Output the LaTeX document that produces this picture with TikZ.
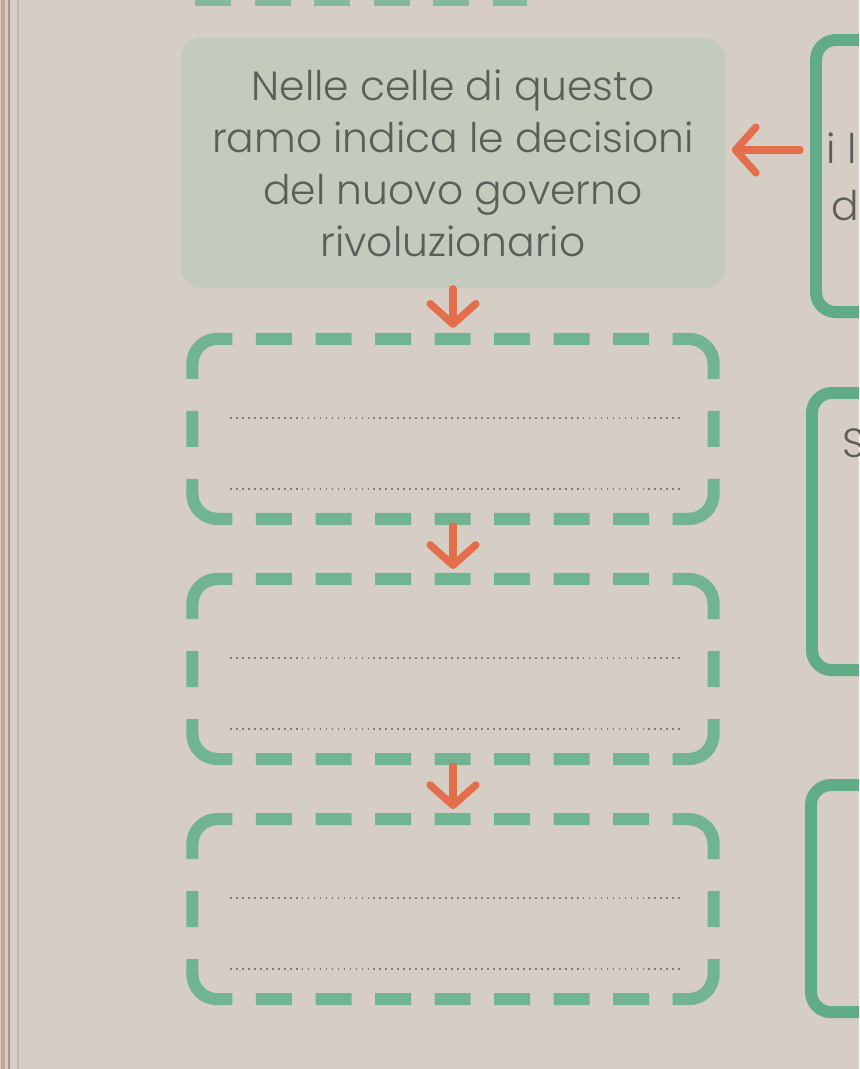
\documentclass[tikz,border=0pt]{standalone}
\usepackage{fontspec}
\setmainfont{Poppins}[UprightFont={* Light}]
\usetikzlibrary{positioning,arrows.meta}
\definecolor{paper}{RGB}{214,205,197}
\definecolor{boxfill}{RGB}{194,203,188}
\definecolor{cellgreen}{RGB}{112,180,146}
\definecolor{sidegreen}{RGB}{96,172,136}
\definecolor{arroworange}{RGB}{226,110,76}
\definecolor{inkgray}{RGB}{92,94,90}
\definecolor{edgegray}{RGB}{160,150,142}
\definecolor{edgered}{RGB}{206,160,150}
\begin{document}
\begin{tikzpicture}[x=0.01cm,y=-0.01cm,
    infobox/.style={rectangle,fill=boxfill,rounded corners=0.2cm,minimum width=5.44cm,minimum height=2.5cm,align=center,text=inkgray,font=\fontsize{11.6}{14.8}\selectfont},
    cell/.style={rectangle,minimum width=5.21cm,minimum height=1.8cm,inner sep=0pt,outer sep=0pt},
    cellline/.style={draw=cellgreen,line width=3.4pt,rounded corners=0.25cm},
    topdash/.style={dash pattern=on 15.45pt off 6.69pt on 10.24pt off 6.69pt on 10.24pt off 6.69pt on 10.24pt off 6.69pt on 10.24pt off 6.69pt on 10.24pt off 6.69pt on 10.24pt off 6.69pt on 10.24pt off 6.69pt},
    sidedash/.style={dash pattern=on 15.45pt off 9.1pt on 10.24pt off 9.1pt},
    sidebox/.style={rectangle,draw=sidegreen,line width=3.4pt,rounded corners=0.2cm,minimum width=2cm,anchor=north west,inner sep=0pt},
    sidetext/.style={text=inkgray,font=\fontsize{11.6}{14.8}\selectfont,anchor=base west,inner sep=0pt},
    writeline/.style={draw=inkgray!80,line width=0.7pt,dash pattern=on 0.5pt off 1.2pt},
    down/.style={draw=arroworange,line width=2.1pt,line cap=round,-{Straight Barb[length=5.8pt,width=13pt,round]}}]
  \useasboundingbox (0,0) rectangle (859,1069);
  \clip (0,0) rectangle (859,1069);
  \fill[paper] (0,0) rectangle (859,1069);
  % page edges on the left
  \draw[edgered,line width=1.2pt] (3,0) -- (3,1069);
  \draw[edgegray,line width=0.6pt] (9,0) -- (9,1069);
  \draw[edgegray!70,line width=0.5pt] (18,0) -- (18,1069);
  % end of the row above
  \draw[cellline,draw=cellgreen!80!paper,dash pattern=on 10.24pt off 6.69pt] (195,0) -- (527,0);

  \node[infobox] (info) at (453,163) {Nelle celle di questo\\ramo indica le decisioni\\del nuovo governo\\rivoluzionario};
  \node[cell,below=0.5cm of info] (cella) {};
  \node[cell,below=0.6cm of cella] (cellb) {};
  \node[cell,below=0.6cm of cellb] (cellc) {};

  \foreach \c in {cella,cellb,cellc}{
    \draw[cellline,topdash] ([yshift=-0.25cm]\c.north west) -- (\c.north west) -- (\c.north east) -- ([yshift=-0.25cm]\c.north east);
    \draw[cellline,topdash] ([yshift=0.25cm]\c.south west) -- (\c.south west) -- (\c.south east) -- ([yshift=0.25cm]\c.south east);
    \draw[cellline,sidedash] ([xshift=0.25cm]\c.north west) -- (\c.north west) -- (\c.south west) -- ([xshift=0.25cm]\c.south west);
    \draw[cellline,sidedash] ([xshift=-0.25cm]\c.north east) -- (\c.north east) -- (\c.south east) -- ([xshift=-0.25cm]\c.south east);
    \draw[writeline] ([shift={(-223,-11)}]\c.center) -- ([shift={(227,-11)}]\c.center);
    \draw[writeline] ([shift={(-223,60)}]\c.center) -- ([shift={(227,60)}]\c.center);
  }

  % boxes of the next branch, cut by the page edge
  \node[sidebox,minimum height=2.72cm] (sidea) at (810,34) {};
  \node[sidebox,minimum height=2.77cm] (sideb) at (806,387) {};
  \node[sidebox,minimum height=2.27cm] (sidec) at (805,779) {};
  \node[sidetext] (sidealine) at (826,163) {i l};
  \node[sidetext] (sideblin) at (831,220) {d};
  \node[sidetext] (sidebtext) at (842,457) {S};

  \coordinate (infoport) at ([yshift=0.13cm]info.east);
  \draw[down,shorten <=0.1cm,shorten >=0.06cm] (infoport -| sidea.west) -- (infoport);
  \draw[down,shorten >=0.11cm] (info.south) -- (cella.north);
  \draw[down,shorten <=0.07cm,shorten >=0.1cm] (cella.south) -- (cellb.north);
  \draw[down,shorten <=0.07cm,shorten >=0.1cm] (cellb.south) -- (cellc.north);
\end{tikzpicture}
\end{document}
